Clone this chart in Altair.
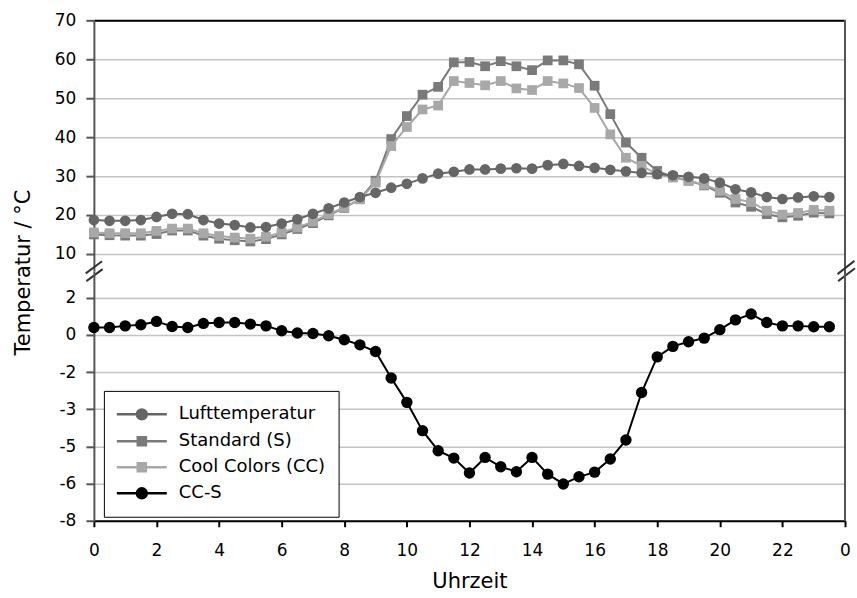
import altair as alt
import pandas as pd

# ---------------- data ----------------
hours = [0, 0.5, 1, 1.5, 2, 2.5, 3, 3.5, 4, 4.5, 5, 5.5, 6, 6.5, 7, 7.5,
         8, 8.5, 9, 9.5, 10, 10.5, 11, 11.5, 12, 12.5, 13, 13.5, 14, 14.5, 15, 15.5,
         16, 16.5, 17, 17.5, 18, 18.5, 19, 19.5, 20, 20.5, 21, 21.5, 22, 22.5, 23, 23.5]

luft = [18.7, 18.5, 18.5, 18.7, 19.5, 20.3, 20.2, 18.7, 17.8, 17.4, 16.8, 16.9, 17.8, 18.9, 20.3, 21.7,
        23.2, 24.6, 25.7, 27.0, 28.0, 29.4, 30.6, 31.1, 31.7, 31.7, 31.9, 32.0, 31.9, 32.8, 33.1, 32.6,
        32.1, 31.6, 31.2, 30.8, 30.5, 30.2, 29.8, 29.4, 28.3, 26.6, 25.8, 24.6, 24.1, 24.5, 24.8, 24.6]

standard = [15.0, 14.8, 14.7, 14.7, 15.1, 16.0, 16.0, 14.7, 13.9, 13.5, 13.2, 13.8, 15.0, 16.4, 17.9, 19.9,
            21.8, 24.1, 28.8, 39.5, 45.4, 50.9, 52.9, 59.2, 59.3, 58.2, 59.5, 58.2, 57.2, 59.7, 59.7, 58.7,
            53.2, 45.9, 38.6, 34.7, 31.3, 29.8, 28.8, 27.6, 25.7, 23.2, 22.1, 20.2, 19.4, 19.8, 20.6, 20.4]

cool = [15.5, 15.3, 15.3, 15.3, 15.9, 16.5, 16.5, 15.3, 14.6, 14.2, 13.9, 14.4, 15.5, 16.8, 18.3, 20.2,
        21.9, 24.0, 28.3, 37.7, 42.6, 47.1, 48.1, 54.4, 53.9, 53.3, 54.4, 52.5, 52.1, 54.4, 53.8, 52.6,
        47.5, 40.7, 34.7, 32.6, 30.5, 29.6, 28.8, 27.8, 26.2, 24.1, 23.3, 21.1, 20.1, 20.5, 21.3, 21.1]

cc_minus_s = [0.67, 0.67, 0.74, 0.79, 0.94, 0.71, 0.67, 0.85, 0.89, 0.89, 0.82, 0.74, 0.52, 0.42, 0.40, 0.30,
              0.12, -0.11, -0.41, -1.60, -2.69, -3.96, -4.86, -5.19, -5.86, -5.16, -5.58, -5.80, -5.16, -5.91, -6.35, -6.03,
              -5.82, -5.23, -4.38, -2.25, -0.65, -0.18, 0.03, 0.19, 0.57, 1.01, 1.27, 0.89, 0.74, 0.74, 0.70, 0.70]

series_names = ["Lufttemperatur", "Standard (S)", "Cool Colors (CC)", "CC-S"]
series_colors = ["#666666", "#7a7a7a", "#a8a8a8", "#000000"]

top_tick_values = [10, 20, 30, 40, 50, 60, 70]
bottom_tick_labels = ["2", "0", "-2", "-3", "-5", "-6", "-8"]
x_tick_values = list(range(0, 25))

# ---------------- tables ----------------
top_df = pd.DataFrame({
    "t": hours * 3,
    "v": standard + cool + luft,
    "series": [series_names[1]] * 48 + [series_names[2]] * 48 + [series_names[0]] * 48,
})
bot_df = pd.DataFrame({"t": hours, "v": cc_minus_s, "series": series_names[3]})

# gridline positions of the lower panel: evenly spaced from 2 down to -8
n = len(bottom_tick_labels)
bottom_tick_values = [2 - i * 10 / (n - 1) for i in range(n)]
label_js = "[" + ",".join("'%s'" % s for s in bottom_tick_labels) + "]"
bottom_label_expr = "%s[round((2 - datum.value) * %f)]" % (label_js, (n - 1) / 10)

W = 752
H1 = 251
H2 = 250
FONT = "DejaVu Sans"
GRID = "#c4c4c4"
AX = "#555555"

xscale = alt.Scale(domain=[0, 24], nice=False, zero=False)
ytop_scale = alt.Scale(domain=[5.6, 70], nice=False, zero=False)

# ---------------- top panel ----------------
x_top = alt.X("t:Q", scale=xscale,
              axis=alt.Axis(orient="top", labels=False, ticks=False, grid=False,
                            domainColor="black", domainWidth=2, title=None))
y_top = alt.Y("v:Q", scale=ytop_scale,
              axis=alt.Axis(values=top_tick_values, grid=True, gridColor=GRID, gridWidth=1.5,
                            domainColor=AX, domainWidth=2, tickColor=AX, tickWidth=2, tickSize=8,
                            labelFontSize=17, labelPadding=10, labelColor="black",
                            title="Temperatur / °C", titleFontSize=21, titleFontWeight="normal",
                            titleColor="black", titleAngle=-90, titleX=-60, titleY=252,
                            titleAlign="center", titleBaseline="bottom"))

top_layers = []
styles = {
    series_names[1]: ("square", 95),
    series_names[2]: ("square", 95),
    series_names[0]: ("circle", 115),
}
for name in [series_names[1], series_names[2], series_names[0]]:
    col = series_colors[series_names.index(name)]
    shape, size = styles[name]
    base = alt.Chart(top_df).transform_filter(alt.datum.series == name)
    top_layers.append(base.mark_line(color=col, strokeWidth=2).encode(x=x_top, y=y_top))
    top_layers.append(base.mark_point(filled=True, opacity=1, shape=shape, size=size, color=col)
                      .encode(x=x_top, y=y_top))

right_border_top = alt.Chart(top_df).mark_rule(color=AX, strokeWidth=2).encode(x=alt.datum(24))

# axis-break markers (decoration)
break_df = pd.DataFrame({
    "x": [-0.26, -0.24, 23.76, 23.78],
    "x2": [0.26, 0.28, 24.3, 24.32],
    "y": [5.0, 3.0, 4.8, 3.0],
    "y2": [8.1, 6.1, 8.2, 6.3],
})
breaks = alt.Chart(break_df).mark_rule(color="#333333", strokeWidth=2, clip=False).encode(
    x=alt.X("x:Q", scale=xscale), x2="x2:Q",
    y=alt.Y("y:Q", scale=ytop_scale), y2="y2:Q")

top = alt.layer(*top_layers, right_border_top, breaks).properties(width=W, height=H1)

# ---------------- bottom panel ----------------
x_bot = alt.X("t:Q", scale=xscale,
              axis=alt.Axis(values=x_tick_values, grid=False,
                            labelExpr="datum.value % 2 == 0 ? (datum.value == 24 ? '0' : datum.value) : ''",
                            domainColor="black", domainWidth=2, tickColor="black", tickWidth=2,
                            tickSize=6, labelFontSize=17, labelPadding=16, labelColor="black",
                            labelFlush=False, labelOverlap=False,
                            title="Uhrzeit", titleFontSize=21, titleFontWeight="normal",
                            titleColor="black", titlePadding=12))
y_bot = alt.Y("v:Q", scale=alt.Scale(domain=[-8, 3.2], nice=False, zero=False),
              axis=alt.Axis(values=bottom_tick_values, labelExpr=bottom_label_expr,
                            grid=True, gridColor=GRID, gridWidth=1.5,
                            domainColor=AX, domainWidth=2, tickColor=AX, tickWidth=2, tickSize=8,
                            labelFontSize=17, labelPadding=10, labelColor="black", title=None))

bbase = alt.Chart(bot_df)
bot_line = bbase.mark_line(color="black", strokeWidth=2).encode(x=x_bot, y=y_bot)
bot_pts = bbase.mark_point(filled=True, opacity=1, shape="circle", size=130, color="black").encode(x=x_bot, y=y_bot)
right_border_bot = bbase.mark_rule(color=AX, strokeWidth=2).encode(x=alt.datum(24))

# legend (symbols: line + marker, drawn with custom paths; 1 unit = 9 px)
circle_path = "M-1.17,0H4.39M2.16,0A0.55,0.55,0,1,1,1.06,0A0.55,0.55,0,1,1,2.16,0Z"
square_path = "M-1.17,0H4.39M1.16,-0.45H2.06V0.45H1.16Z"
legend_shapes = [circle_path, square_path, square_path, circle_path]
legend_def = alt.Legend(title=None, orient="none", legendX=10, legendY=371,
                        strokeColor="black", fillColor="white", padding=13,
                        labelFontSize=18, labelColor="black", labelFont=FONT,
                        symbolSize=324, symbolStrokeWidth=2.5, rowPadding=6,
                        labelOffset=41, symbolOpacity=1)
legend_layer = alt.Chart(bot_df).transform_filter("false").mark_point(filled=True, size=324).encode(
    x=x_bot, y=y_bot,
    fill=alt.Fill("series:N", scale=alt.Scale(domain=series_names, range=series_colors), legend=legend_def),
    stroke=alt.Stroke("series:N", scale=alt.Scale(domain=series_names, range=series_colors), legend=legend_def),
    shape=alt.Shape("series:N", scale=alt.Scale(domain=series_names, range=legend_shapes), legend=legend_def),
)

bottom = alt.layer(bot_line, bot_pts, right_border_bot, legend_layer).properties(width=W, height=H2)

chart = alt.vconcat(top, bottom, spacing=0, bounds="flush").properties(
    padding={"left": 13, "top": 11, "right": 0, "bottom": 0}
).configure(font=FONT).configure_view(stroke=None)

chart.save("out.html", embed_options={"renderer": "svg", "actions": False})
